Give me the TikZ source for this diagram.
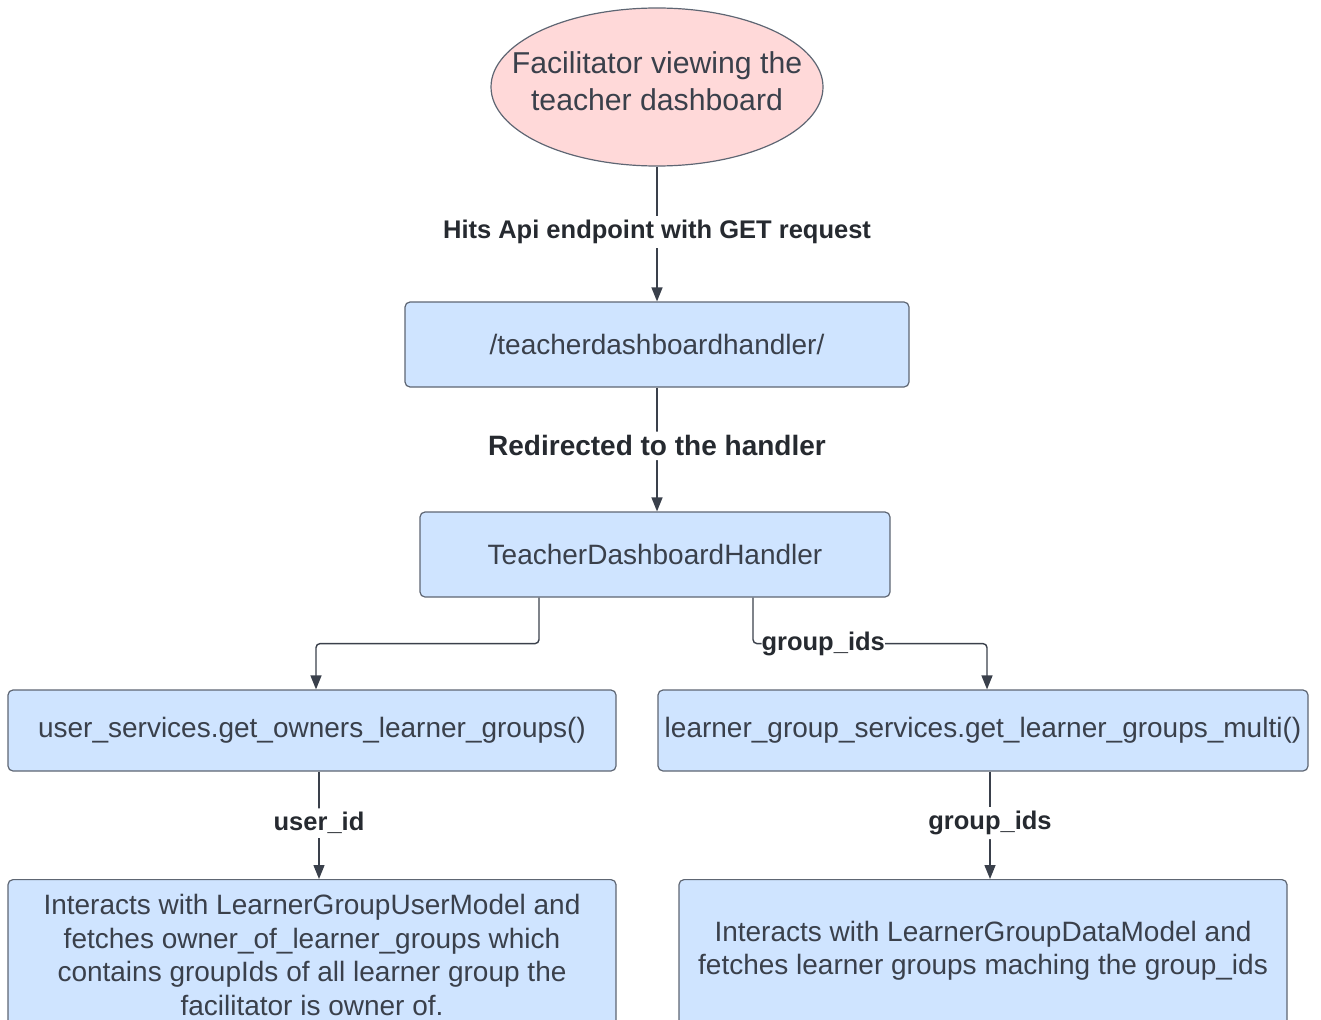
\documentclass[tikz,border=0pt]{standalone}
\usepackage{fontspec}
\setmainfont{Liberation Sans}
\usetikzlibrary{arrows.meta,shapes.geometric}

\definecolor{boxfill}{HTML}{CFE4FF}
\definecolor{pinkfill}{HTML}{FFD9D9}
\definecolor{edgegray}{HTML}{5E6673}
\definecolor{ink}{HTML}{3A404B}
\definecolor{tagink}{HTML}{262A30}

\newcommand\bxfont{\fontsize{28}{33.5}\selectfont}
\newcommand\elfont{\fontsize{30.2}{37}\selectfont}
\newcommand\tgfont{\fontsize{25.5}{30}\selectfont\bfseries}
\newcommand\tgbigfont{\fontsize{28}{32}\selectfont\bfseries}

\tikzset{
  box/.style={draw=edgegray, fill=boxfill, line width=1.2pt, rounded corners=5pt,
              font=\bxfont, text=ink, align=center, inner sep=0pt},
  boxtext/.style={font=\bxfont, text=ink, align=center, inner sep=0pt},
  startnode/.style={ellipse, draw=edgegray, fill=pinkfill, line width=1.2pt, inner sep=0pt},
  starttext/.style={font=\elfont, text=ink, align=center, inner sep=0pt},
  flow/.style={draw=ink, line width=1.4pt, rounded corners=4pt,
              -{Triangle[length=14pt,width=11pt]}},
  tag/.style={fill=white, font=\tgfont, text=tagink, inner xsep=1pt, inner ysep=4pt},
}

\begin{document}
\begin{tikzpicture}[x=1pt,y=-1pt]
  \useasboundingbox (0,0) rectangle (1321,1019);
  \clip (0,0) rectangle (1321,1019);

  % nodes
  \node[startnode, minimum width=332, minimum height=158] (start) at (657,87) {};
  \node[starttext] (startt) at (657,81) {Facilitator viewing the\\teacher dashboard};
  \node[box, minimum width=504, minimum height=85] (b1) at (657,344.5)
    {/teacherdashboardhandler/};
  \node[box, minimum width=470, minimum height=85] (b2) at (655,554.5)
    {TeacherDashboardHandler};
  \node[box, minimum width=608, minimum height=81] (b3) at (312,730.5)
    {user\_services.get\_owners\_learner\_groups()};
  \node[box, minimum width=650, minimum height=81] (b4) at (983,730.5)
    {learner\_group\_services.get\_learner\_groups\_multi()};
  \node[box, minimum width=608, minimum height=170, anchor=north] (b5) at (312,879) {};
  \node[boxtext] (b5t) at (312,955)
    {Interacts with LearnerGroupUserModel and\\fetches owner\_of\_learner\_groups which\\contains groupIds of all learner group the\\facilitator is owner of.};
  \node[box, minimum width=608, minimum height=170, anchor=north] (b6) at (983,879) {};
  \node[boxtext] (b6t) at (983,950.5)
    {Interacts with LearnerGroupDataModel and\\fetches learner groups maching the group\_ids};

  % connectors
  \draw[flow] (start.south) -- (b1.north)
    node[tag, pos=0.485] {Hits Api endpoint with GET request};
  \draw[flow] (b1.south) -- (b1.south |- b2.north)
    node[tag, font=\tgbigfont, pos=0.47] {Redirected to the handler};
  \draw[flow] ([xshift=-116pt]b2.south) -- ++(0,46) -| ([xshift=4pt]b3.north);
  \draw[flow] ([xshift=98pt]b2.south) -- ++(0,46) -| ([xshift=4pt]b4.north)
    node[tag, pos=0.15, inner xsep=0pt] {group\_ids};
  \draw[flow] ([xshift=7pt]b3.south) -- ([xshift=7pt]b3.south |- b5.north)
    node[tag, pos=0.48] {user\_id};
  \draw[flow] ([xshift=7pt]b4.south) -- ([xshift=7pt]b4.south |- b6.north)
    node[tag, pos=0.48] {group\_ids};
\end{tikzpicture}
\end{document}
